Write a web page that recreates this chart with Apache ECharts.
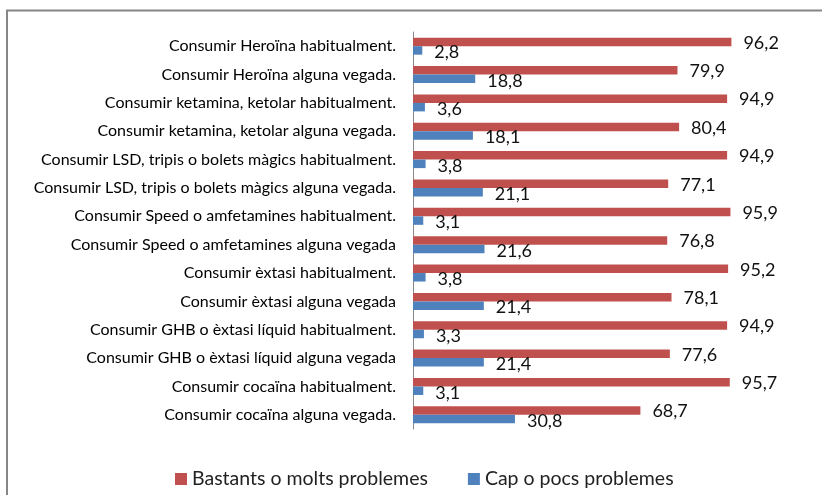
<!DOCTYPE html>
<html>
<head>
<meta charset="utf-8">
<script src="https://cdn.jsdelivr.net/npm/echarts@6/dist/echarts.min.js"></script>
<style>
  html, body { margin: 0; padding: 0; background: #fff; }
  #chart { width: 822px; height: 495px; }
</style>
</head>
<body>
<div id="chart"></div>
<script>
const categories = [
  'Consumir Heroïna habitualment.',
  'Consumir Heroïna alguna vegada.',
  'Consumir ketamina, ketolar habitualment.',
  'Consumir ketamina, ketolar alguna vegada.',
  'Consumir LSD, tripis o bolets màgics habitualment.',
  'Consumir LSD, tripis o bolets màgics alguna vegada.',
  'Consumir Speed o amfetamines habitualment.',
  'Consumir Speed o amfetamines alguna vegada',
  'Consumir èxtasi habitualment.',
  'Consumir èxtasi alguna vegada',
  'Consumir GHB o èxtasi líquid habitualment.',
  'Consumir GHB o èxtasi líquid alguna vegada',
  'Consumir cocaïna habitualment.',
  'Consumir cocaïna alguna vegada.'
]
const bastants = [96.2, 79.9, 94.9, 80.4, 94.9, 77.1, 95.9, 76.8, 95.2, 78.1, 94.9, 77.6, 95.7, 68.7]
const capPocs = [2.8, 18.8, 3.6, 18.1, 3.8, 21.1, 3.1, 21.6, 3.8, 21.4, 3.3, 21.4, 3.1, 30.8]

const fontFamily = 'Lato, "Noto Sans", sans-serif'
const commaLabel = p => String(p.value).replace('.', ',')

const chart = echarts.init(document.getElementById('chart'))

chart.setOption({
  backgroundColor: '#fff',
  animation: false,
  textStyle: { fontFamily },
  graphic: [
    {
      type: 'polyline',
      shape: { points: [[7, 495], [7, 10.5], [822, 10.5]] },
      style: { stroke: '#868686', lineWidth: 2, fill: null }
    }
  ],
  legend: {
    left: 170,
    top: 464,
    itemWidth: 12,
    itemHeight: 12,
    itemGap: 40,
    icon: 'rect',
    textStyle: { fontSize: 19.5, color: '#222', fontFamily }
  },
  grid: { left: 413, top: 32, right: 78, bottom: 66 },
  xAxis: {
    type: 'value',
    min: 0,
    max: 100,
    show: false
  },
  yAxis: {
    type: 'category',
    inverse: true,
    data: categories,
    axisLine: { lineStyle: { color: '#888', width: 1 } },
    axisTick: { length: 5, lineStyle: { color: '#888' } },
    axisLabel: { margin: 17, fontSize: 16, color: '#000', fontFamily }
  },
  series: [
    {
      name: 'Bastants o molts problemes',
      type: 'bar',
      data: bastants,
      barWidth: 8.5,
      barGap: '0%',
      itemStyle: { color: '#c0504d' },
      label: {
        show: true,
        position: 'right',
        distance: 12,
        offset: [0, 1],
        fontSize: 18,
        color: '#111',
        formatter: commaLabel
      }
    },
    {
      name: 'Cap o pocs problemes',
      type: 'bar',
      data: capPocs,
      barWidth: 8.5,
      barGap: '0%',
      itemStyle: { color: '#4f81bd' },
      label: {
        show: true,
        position: 'right',
        distance: 12,
        offset: [0, 2],
        fontSize: 18,
        color: '#111',
        formatter: commaLabel
      }
    }
  ]
})
</script>
</body>
</html>
